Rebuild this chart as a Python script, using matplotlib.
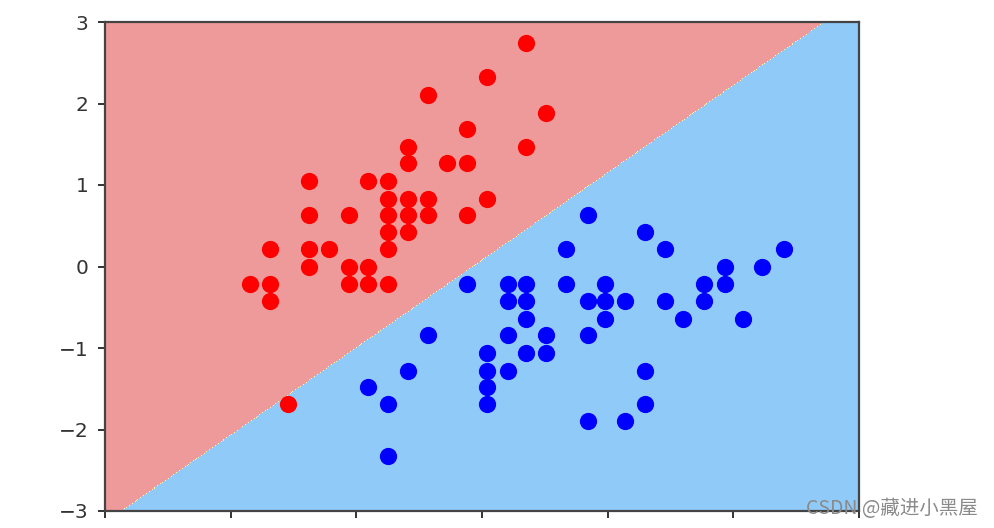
import numpy as np
import matplotlib
matplotlib.use("Agg")
import matplotlib.pyplot as plt
from matplotlib.colors import ListedColormap

# Class 0 (red) points, standardized features
red_x = [0.35, 0.04, -0.43, 0.51, -0.12, 0.35, -0.59, -0.59, -0.28, -0.12,
         -1.38, -0.91, -0.75, -0.75, -0.59, -0.43, 0.04, -1.38, -1.06, -0.75,
         -0.59, -0.43, -0.12, -0.75, -0.59, -0.75, -1.69, -1.38, -1.22, -1.38,
         -1.06, -0.91, -1.85, -1.69, -1.06, -0.91, -0.75, -1.69, -1.54]
red_y = [2.74, 2.32, 2.10, 1.88, 1.69, 1.47, 1.47, 1.27, 1.27, 1.27,
         1.05, 1.05, 1.05, 0.83, 0.83, 0.83, 0.83, 0.63, 0.63, 0.63,
         0.63, 0.63, 0.63, 0.42, 0.42, 0.21, 0.21, 0.21, 0.21, 0.0,
         0.0, 0.0, -0.22, -0.22, -0.22, -0.22, -0.22, -0.42, -1.69]

# Class 1 (blue) points
blue_x = [0.84, 1.30, 0.67, 1.46, 2.40, 1.93, 2.23, -0.12, 0.21, 0.35,
          0.67, 0.98, 1.77, 1.93, 0.21, 0.35, 0.84, 0.98, 1.14, 1.46,
          1.77, 0.35, 0.98, 1.60, 2.08, -0.43, 0.21, 0.51, 0.84, 0.04,
          0.35, 0.51, -0.59, 0.04, 0.21, 1.30, -0.91, 0.04, -0.75, 0.04,
          1.30, 0.84, 1.14, -0.75]
blue_y = [0.63, 0.42, 0.21, 0.21, 0.21, 0.0, 0.0, -0.22, -0.22, -0.22,
          -0.22, -0.22, -0.22, -0.22, -0.42, -0.42, -0.42, -0.42, -0.42, -0.42,
          -0.42, -0.64, -0.64, -0.64, -0.64, -0.84, -0.84, -0.84, -0.84, -1.06,
          -1.06, -1.06, -1.28, -1.28, -1.28, -1.28, -1.48, -1.48, -1.69, -1.69,
          -1.69, -1.89, -1.89, -2.33]

# Linear decision function (model coefficients)
coef_x = 1.073
coef_y = -1.0
intercept = 0.07

axis_range = [-3, 3, -3, 3]
ticks = [-3, -2, -1, 0, 1, 2, 3]

fig = plt.figure(figsize=(9.94, 5.28), dpi=100)
ax = fig.add_axes([105 / 994, 1 - 511 / 528, (859 - 105) / 994, (511 - 22) / 528])

x0, x1 = np.meshgrid(
    np.linspace(axis_range[0], axis_range[1], int((axis_range[1] - axis_range[0]) * 100)),
    np.linspace(axis_range[2], axis_range[3], int((axis_range[3] - axis_range[2]) * 100)),
)
zz = (coef_x * x0 + coef_y * x1 + intercept > 0).astype(float)
custom_cmap = ListedColormap(['#EF9A9A', '#FFF59D', '#90CAF9'])
ax.contourf(x0, x1, zz, cmap=custom_cmap)

ax.scatter(red_x, red_y, color='red', s=130, zorder=3)
ax.scatter(blue_x, blue_y, color='blue', s=130, zorder=3)

ax.set_xlim(axis_range[0], axis_range[1])
ax.set_ylim(axis_range[2], axis_range[3])
ax.set_xticks(ticks)
ax.set_yticks(ticks)
ax.tick_params(labelsize=14.5, length=5, width=1.4, pad=7, colors='#333333')
for s in ax.spines.values():
    s.set_linewidth(1.6)
    s.set_color('#444444')

fig.text(0.984, 0.036, 'CSDN @藏进小黑屋', ha='right', va='center', fontsize=14,
         color='#8a8a8a', family=['Noto Sans CJK SC', 'DejaVu Sans'], zorder=10)

fig.savefig('out.png', dpi=100)
